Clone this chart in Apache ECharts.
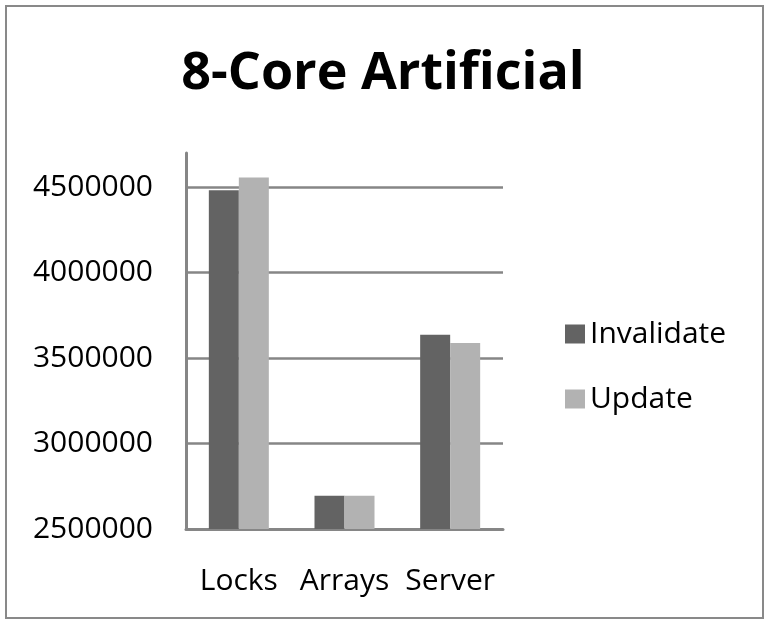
<!DOCTYPE html>
<html>
<head>
<meta charset="utf-8">
<script src="https://cdn.jsdelivr.net/npm/echarts@6/dist/echarts.min.js"></script>
<style>
  html, body { margin: 0; padding: 0; background: #fff; }
  #chart { width: 766px; height: 625px; }
</style>
</head>
<body>
<div id="chart"></div>
<script>
// data
var categories = ['Locks', 'Arrays', 'Server']
var invalidate = [4482000, 2695000, 3636000]
var update = [4556000, 2695000, 3588000]
var seriesNames = ['Invalidate', 'Update']

var font = 'Open Sans'
var chart = echarts.init(document.getElementById('chart'))
chart.setOption({
  backgroundColor: '#fff',
  animation: false,
  title: {
    text: '8-Core Artificial',
    left: 'center',
    top: 43,
    textStyle: { fontFamily: font, fontSize: 52, fontWeight: 'bold', color: '#000' }
  },
  graphic: [{
    type: 'rect',
    shape: { x: 6, y: 6, width: 757, height: 612 },
    style: { fill: 'none', stroke: '#898989', lineWidth: 2 },
    silent: true
  }],
  legend: {
    data: seriesNames,
    orient: 'vertical',
    left: 560,
    top: 309,
    icon: 'rect',
    itemWidth: 20,
    itemHeight: 19,
    itemGap: 25,
    textStyle: { fontFamily: font, fontSize: 30, color: '#000', lineHeight: 40 }
  },
  grid: { left: 186, right: 263, top: 153, bottom: 96, containLabel: false },
  xAxis: {
    type: 'category',
    data: categories,
    axisLine: { lineStyle: { color: '#868686', width: 3 } },
    axisTick: { show: false },
    axisLabel: { fontFamily: font, fontSize: 30, color: '#000', margin: 37, interval: 0 }
  },
  yAxis: {
    type: 'value',
    min: 2500000,
    max: 4700000,
    interval: 500000,
    axisLine: { show: true, lineStyle: { color: '#868686', width: 3 } },
    axisTick: { show: false },
    axisLabel: {
      fontFamily: font, fontSize: 30, color: '#000', margin: 33, showMaxLabel: false,
      formatter: function (v) { return String(v) }
    },
    splitLine: { show: true, showMaxLine: false, lineStyle: { color: '#868686', width: 2.5 } }
  },
  series: [{
    name: seriesNames[0],
    type: 'bar',
    data: invalidate,
    barWidth: 30,
    barGap: '0%',
    itemStyle: { color: '#636363' }
  }, {
    name: seriesNames[1],
    type: 'bar',
    data: update,
    barWidth: 30,
    barGap: '0%',
    itemStyle: { color: '#b2b2b2' }
  }]
})
</script>
</body>
</html>
